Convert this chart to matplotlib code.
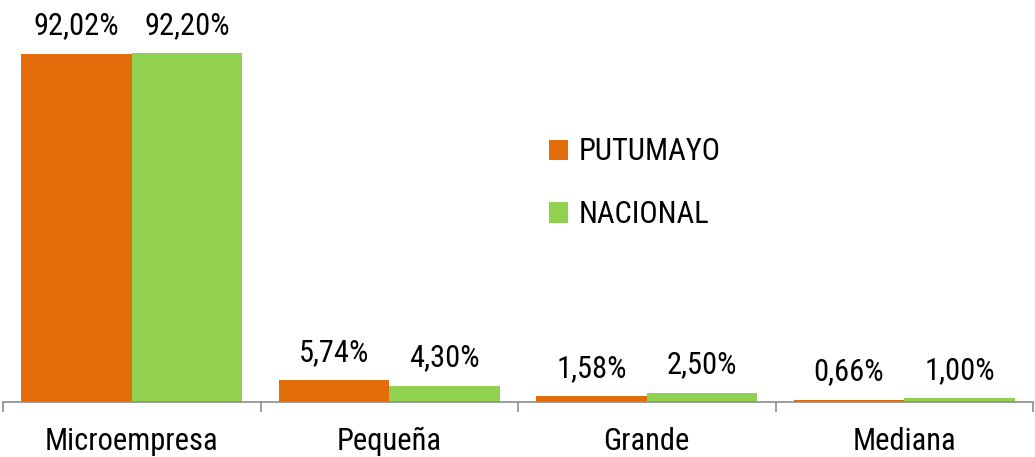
import matplotlib
matplotlib.use("Agg")
import matplotlib.pyplot as plt
import numpy as np

plt.rcParams["font.family"] = ["Roboto Condensed", "DejaVu Sans"]

categories = ["Microempresa", "Pequeña", "Grande", "Mediana"]
putumayo = [92.02, 5.74, 1.58, 0.66]
nacional = [92.20, 4.30, 2.50, 1.00]
series_names = ["PUTUMAYO", "NACIONAL"]
colors = ["#E36C0A", "#92D050"]


def fmt(v):
    return f"{v:.2f}".replace(".", ",") + "%"


fig = plt.figure(figsize=(10.35, 4.57), dpi=100)
ax = fig.add_axes([3 / 1035, 55 / 457, 1030 / 1035, 402 / 457])

x = np.arange(len(categories))
w = 0.43
for i, (vals, name, col) in enumerate(zip([putumayo, nacional], series_names, colors)):
    xs = x + (i - 0.5) * w
    ax.bar(xs, vals, width=w, color=col, label=name, edgecolor="none")
    for xi, v in zip(xs, vals):
        ax.annotate(fmt(v), (xi, v), xytext=(0, 9.5), textcoords="offset points",
                    ha="center", va="bottom", fontsize=22)

ax.set_xlim(-0.5, len(categories) - 0.5)
ax.set_ylim(0, 106.2)
ax.set_yticks([])
for s in ["top", "right", "left"]:
    ax.spines[s].set_visible(False)
ax.spines["bottom"].set_color("#8c8c8c")
ax.spines["bottom"].set_linewidth(1.2)

ax.set_xticks(np.arange(-0.5, len(categories)), labels=[])
ax.tick_params(axis="x", which="major", direction="out", length=7, color="#8c8c8c", width=1.2)
ax.set_xticks(x, labels=categories, minor=True)
ax.tick_params(axis="x", which="minor", length=0, pad=18, labelsize=22)

ax.legend(loc="upper left", bbox_to_anchor=(518 / 1030, 292 / 402), frameon=False,
          fontsize=22, handlelength=0.65, handleheight=0.65, handletextpad=0.35,
          labelspacing=1.1)

fig.savefig("out.png", dpi=100)
